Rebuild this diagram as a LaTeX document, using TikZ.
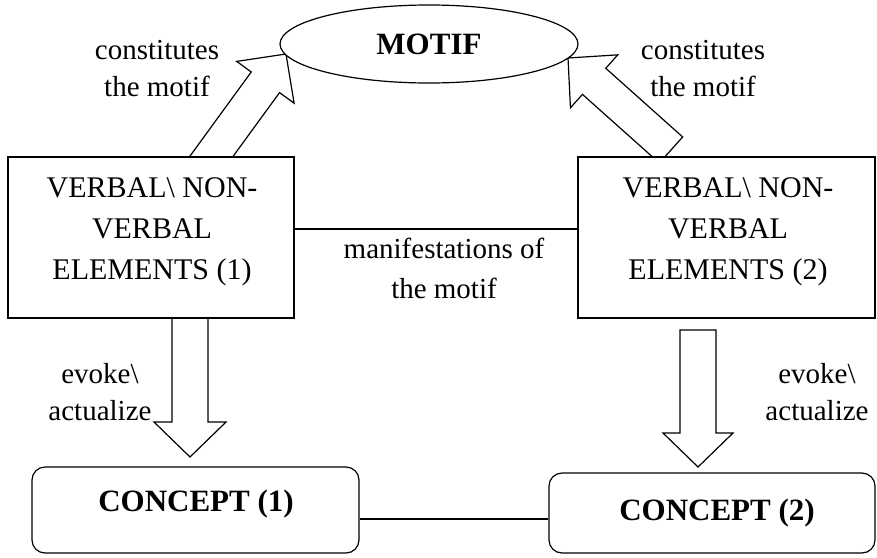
\documentclass[tikz,border=0pt]{standalone}
\usepackage{fontspec}
\setmainfont{Liberation Serif}
\usetikzlibrary{calc,shapes.geometric}
\newcommand\blockarrow[5]{%
  \coordinate (bah) at ($(#2)!#5!(#1)$);
  \draw[arrowbody] ($(#1)!#3!90:(#2)$) -- ($(bah)!#3!-90:(#1)$) -- ($(bah)!#4!-90:(#1)$)
    -- (#2) -- ($(bah)!#4!90:(#1)$) -- ($(bah)!#3!90:(#1)$) -- ($(#1)!#3!-90:(#2)$) -- cycle;}
\begin{document}
\begin{tikzpicture}[x=1pt,y=-1pt,
  every path/.style={line width=1.2pt},
  arrowbody/.style={draw=black,fill=white,line join=miter},
  boxshape/.style={draw,fill=white,rectangle,inner sep=0pt},
  conceptbox/.style={draw,fill=white,rectangle,rounded corners=13pt,inner sep=0pt},
  boxtext/.style={align=center,inner sep=0pt,font=\fontsize{30}{41}\selectfont},
  lbl/.style={align=center,inner sep=0pt,font=\fontsize{29}{37}\selectfont},
  boldtext/.style={inner sep=0pt,font=\fontsize{31}{36}\selectfont\bfseries}]
\useasboundingbox (0,0) rectangle (877,557);
% arrow end points
\coordinate (ua1t) at (201.5,170);
\coordinate (ua1h) at (286,54);
\coordinate (ua2t) at (671,150);
\coordinate (ua2h) at (568,58);
\coordinate (da1t) at (190,317);
\coordinate (da1h) at (190,457);
\coordinate (da2t) at (698,330);
\coordinate (da2h) at (698,467);
% upward arrows (behind boxes)
\blockarrow{ua1t}{ua1h}{17.5pt}{35.5pt}{35pt}
\blockarrow{ua2t}{ua2h}{17.5pt}{35.5pt}{35pt}
% motif
\node[draw,fill=white,ellipse,inner sep=0pt,minimum width=298pt,minimum height=78pt,
  font=\fontsize{31}{36}\selectfont\bfseries] (motif) at (429,44) {MOTIF};
% down arrows
\blockarrow{da1t}{da1h}{18pt}{36pt}{35pt}
\blockarrow{da2t}{da2h}{18pt}{35pt}{34pt}
% element boxes
\node[boxshape,minimum width=286pt,minimum height=161pt] (vb1) at (151,237.5) {};
\node[boxtext] (vt1) at (152,232) {VERBAL\textbackslash{} NON-\\VERBAL\\ELEMENTS (1)};
\node[boxshape,minimum width=297pt,minimum height=161pt] (vb2) at (726.5,237.5) {};
\node[boxtext] (vt2) at (728,232) {VERBAL\textbackslash{} NON-\\VERBAL\\ELEMENTS (2)};
% concept boxes
\node[conceptbox,minimum width=327pt,minimum height=86pt] (c1) at (195.5,510) {};
\node[boldtext,anchor=base] (ct1) at (196,511) {CONCEPT (1)};
\node[conceptbox,minimum width=326pt,minimum height=80pt] (c2) at (712,513) {};
\node[boldtext,anchor=base] (ct2) at (717,520) {CONCEPT (2)};
% connectors
\draw ([yshift=8.5pt]vb1.east) -- ([yshift=8.5pt]vb1.east -| vb2.west);
\draw ([yshift=-9pt]c1.east) -- ([yshift=-9pt]c1.east -| c2.west);
% labels
\node[lbl] (l1) at (157,68.5) {constitutes\\the motif};
\node[lbl] (l2) at (703,68.5) {constitutes\\the motif};
\node[lbl,font=\fontsize{29}{40}\selectfont] (l3) at (444,268) {manifestations of\\the motif};
\node[lbl] (l4) at (100,392.5) {evoke\textbackslash\\actualize};
\node[lbl] (l5) at (817,392.5) {evoke\textbackslash\\actualize};
\end{tikzpicture}
\end{document}
